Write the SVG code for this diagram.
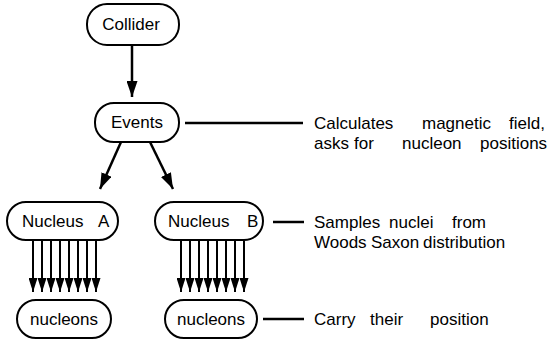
<svg xmlns="http://www.w3.org/2000/svg" width="550" height="340" viewBox="0 0 550 340">
<style>
.box{fill:#fff;stroke:#000;stroke-width:2}
.t{font-family:"Liberation Sans",Arial,sans-serif;font-size:17px;fill:#000}
.c{text-anchor:middle}
.ln{stroke:#000;stroke-width:2.5;fill:none}
.ar{stroke:#000;stroke-width:2;fill:none}
</style>
<defs>
<marker id="ah" markerWidth="16" markerHeight="11" refX="16" refY="5.5" orient="auto" markerUnits="userSpaceOnUse" viewBox="0 0 16 11">
<path d="M0,0 L16,5.5 L0,11 Z" fill="#000"/>
</marker>
<marker id="sh" markerWidth="14" markerHeight="9" refX="14" refY="4.5" orient="auto" markerUnits="userSpaceOnUse" viewBox="0 0 14 9">
<path d="M0,0 L14,4.5 L0,9 Z" fill="#000"/>
</marker>
</defs>
<g id="connectors">
<line class="ln" x1="132" y1="45" x2="132" y2="97" marker-end="url(#ah)"/>
<line class="ln" x1="121" y1="142" x2="100" y2="189" marker-end="url(#ah)"/>
<line class="ln" x1="150" y1="142" x2="173" y2="189" marker-end="url(#ah)"/>
<g class="ar">
<line x1="33" y1="241" x2="33" y2="292" marker-end="url(#sh)"/>
<line x1="42" y1="241" x2="42" y2="292" marker-end="url(#sh)"/>
<line x1="51" y1="241" x2="51" y2="292" marker-end="url(#sh)"/>
<line x1="60" y1="241" x2="60" y2="292" marker-end="url(#sh)"/>
<line x1="69" y1="241" x2="69" y2="292" marker-end="url(#sh)"/>
<line x1="78" y1="241" x2="78" y2="292" marker-end="url(#sh)"/>
<line x1="87" y1="241" x2="87" y2="292" marker-end="url(#sh)"/>
<line x1="96" y1="241" x2="96" y2="292" marker-end="url(#sh)"/>
<line x1="181" y1="241" x2="181" y2="292" marker-end="url(#sh)"/>
<line x1="190" y1="241" x2="190" y2="292" marker-end="url(#sh)"/>
<line x1="199" y1="241" x2="199" y2="292" marker-end="url(#sh)"/>
<line x1="208" y1="241" x2="208" y2="292" marker-end="url(#sh)"/>
<line x1="217" y1="241" x2="217" y2="292" marker-end="url(#sh)"/>
<line x1="226" y1="241" x2="226" y2="292" marker-end="url(#sh)"/>
<line x1="235" y1="241" x2="235" y2="292" marker-end="url(#sh)"/>
<line x1="244" y1="241" x2="244" y2="292" marker-end="url(#sh)"/>
</g>
<line class="ln" x1="185" y1="123" x2="303" y2="123"/>
<line class="ln" x1="273" y1="222" x2="304" y2="222"/>
<line class="ln" x1="263" y1="319" x2="304" y2="319"/>
</g>
<g id="collider">
<rect class="box" x="87" y="4" width="92" height="41" rx="20"/>
<text class="t c" x="131" y="30">Collider</text>
</g>
<g id="events">
<rect class="box" x="95" y="103" width="84" height="39" rx="19"/>
<text class="t c" x="137" y="128">Events</text>
</g>
<g id="nucleusA">
<rect class="box" x="7" y="202" width="111" height="38" rx="19"/>
<text class="t" x="22" y="227">Nucleus</text>
<text class="t" x="98" y="227">A</text>
</g>
<g id="nucleusB">
<rect class="box" x="155" y="202" width="108" height="38" rx="19"/>
<text class="t" x="168" y="227">Nucleus</text>
<text class="t" x="247" y="227">B</text>
</g>
<g id="nucleonsA">
<rect class="box" x="17" y="300" width="94" height="38" rx="19"/>
<text class="t c" x="64" y="325">nucleons</text>
</g>
<g id="nucleonsB">
<rect class="box" x="165" y="300" width="92" height="38" rx="19"/>
<text class="t c" x="211" y="325">nucleons</text>
</g>
<g id="notes" class="t">
<text x="314" y="129">Calculates</text>
<text x="422" y="129">magnetic</text>
<text x="509" y="129">field,</text>
<text x="314" y="149">asks</text>
<text x="354" y="149">for</text>
<text x="402" y="149">nucleon</text>
<text x="480" y="149">positions</text>
<text x="314" y="228">Samples</text>
<text x="389" y="228">nuclei</text>
<text x="452" y="228">from</text>
<text x="314" y="248">Woods</text>
<text x="371" y="248">Saxon</text>
<text x="423" y="248">distribution</text>
<text x="314" y="325">Carry</text>
<text x="370" y="325">their</text>
<text x="430" y="325">position</text>
</g>
</svg>
